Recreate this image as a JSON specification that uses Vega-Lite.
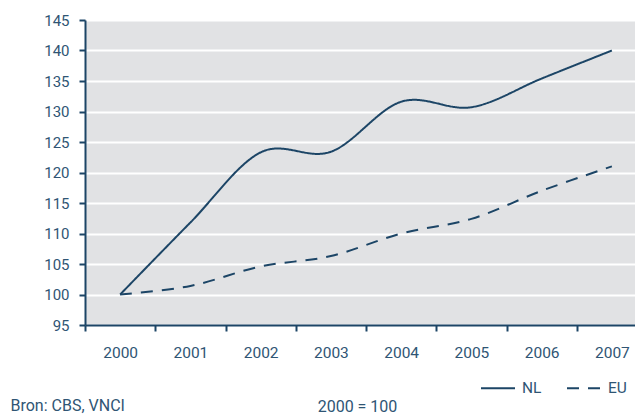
{
  "$schema": "https://vega.github.io/schema/vega-lite/v6.json",
  "autosize": "none",
  "width": 550,
  "height": 305,
  "padding": {"left": 85, "top": 20, "right": 0, "bottom": 91},
  "background": "white",
  "config": {"font": "Roboto", "view": {"fill": "#E1E2E4", "stroke": null}},
  "data": {
    "values": [
      {"year": "2000", "series": "NL", "index": 100},
      {"year": "2001", "series": "NL", "index": 111.8},
      {"year": "2002", "series": "NL", "index": 123.3},
      {"year": "2003", "series": "NL", "index": 123.4},
      {"year": "2004", "series": "NL", "index": 131.6},
      {"year": "2005", "series": "NL", "index": 130.7},
      {"year": "2006", "series": "NL", "index": 135.4},
      {"year": "2007", "series": "NL", "index": 140},
      {"year": "2000", "series": "EU", "index": 100},
      {"year": "2001", "series": "EU", "index": 101.4},
      {"year": "2002", "series": "EU", "index": 104.6},
      {"year": "2003", "series": "EU", "index": 106.3},
      {"year": "2004", "series": "EU", "index": 110.0},
      {"year": "2005", "series": "EU", "index": 112.4},
      {"year": "2006", "series": "EU", "index": 117.0},
      {"year": "2007", "series": "EU", "index": 121.0}
    ]
  },
  "mark": {"type": "line", "interpolate": "cardinal", "strokeWidth": 2, "color": "#1C4566"},
  "encoding": {
    "x": {
      "field": "year",
      "type": "ordinal",
      "bandPosition": 0.5,
      "scale": {"type": "band", "range": [0, 562], "paddingInner": 0, "paddingOuter": 0},
      "axis": {
        "title": "2000 = 100",
        "titleX": 272,
        "titleY": 73,
        "titleAlign": "center",
        "titleBaseline": "top",
        "titleFontSize": 16,
        "titleFontWeight": "normal",
        "titleColor": "#2F5574",
        "labelAngle": 0,
        "labelFontSize": 15.5,
        "labelColor": "#2F5574",
        "labelPadding": 14,
        "labelDx": -4,
        "tickBand": "extent",
        "tickSize": 6,
        "tickWidth": 2,
        "tickColor": "#1C4566",
        "domainColor": "#1C4566",
        "domainWidth": 2,
        "grid": false
      }
    },
    "y": {
      "field": "index",
      "type": "quantitative",
      "scale": {"domain": [95, 145], "nice": false, "zero": false},
      "axis": {
        "values": [95, 100, 105, 110, 115, 120, 125, 130, 135, 140, 145],
        "title": "Bron: CBS, VNCI",
        "titleAngle": 0,
        "titleX": -75,
        "titleY": 377,
        "titleAlign": "left",
        "titleBaseline": "top",
        "titleFontSize": 16,
        "titleFontWeight": "normal",
        "titleColor": "#2F5574",
        "labelFontSize": 15,
        "labelColor": "#2F5574",
        "labelPadding": 10,
        "tickSize": 6,
        "tickWidth": 2,
        "tickColor": "#1C4566",
        "domainColor": "#1C4566",
        "domainWidth": 2,
        "grid": true,
        "gridColor": "#FFFFFF",
        "gridWidth": 2
      }
    },
    "strokeDash": {
      "field": "series",
      "type": "nominal",
      "scale": {"domain": ["NL", "EU"], "range": [[1, 0], [12, 9]]},
      "legend": {
        "orient": "none",
        "legendX": 395,
        "legendY": 350,
        "direction": "horizontal",
        "title": null,
        "symbolType": "stroke",
        "symbolSize": 1156,
        "symbolStrokeWidth": 2,
        "symbolStrokeColor": "#1C4566",
        "labelFontSize": 15.5,
        "labelColor": "#2F5574",
        "labelOffset": 6,
        "columnPadding": 21
      }
    }
  }
}
